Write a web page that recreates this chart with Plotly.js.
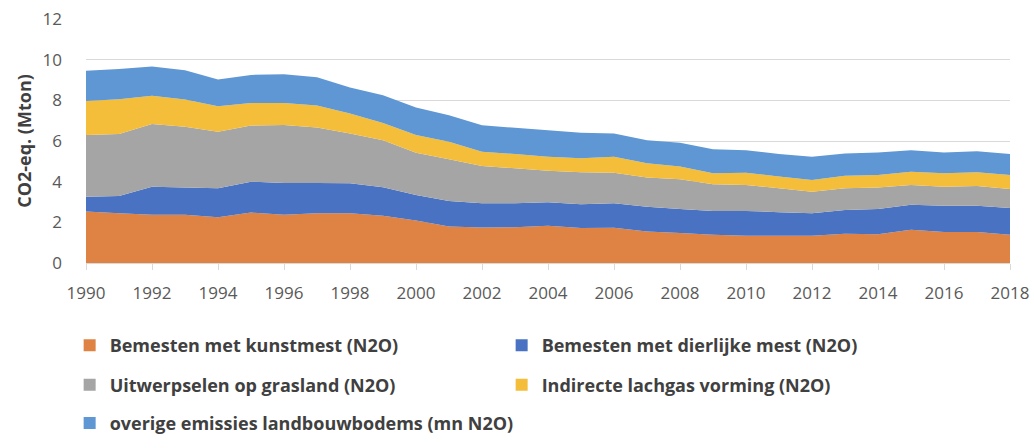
<!DOCTYPE html>
<html><head><meta charset="utf-8">
<script src="https://cdn.plot.ly/plotly-3.0.1.min.js"></script>
<style>html,body{margin:0;padding:0;background:#fff}</style>
</head><body><div id="chart" style="width:1034px;height:448px"></div>
<script>
const years = [1990,1991,1992,1993,1994,1995,1996,1997,1998,1999,2000,2001,2002,2003,2004,2005,2006,2007,2008,2009,2010,2011,2012,2013,2014,2015,2016,2017,2018];
const kunstmest = [2.53,2.45,2.37,2.37,2.25,2.48,2.37,2.45,2.45,2.32,2.09,1.79,1.75,1.76,1.83,1.72,1.73,1.55,1.47,1.39,1.34,1.34,1.34,1.44,1.42,1.63,1.52,1.52,1.39];
const dierlijkeMest = [0.73,0.85,1.38,1.34,1.43,1.52,1.57,1.49,1.47,1.41,1.26,1.26,1.19,1.18,1.16,1.17,1.21,1.22,1.18,1.17,1.22,1.16,1.11,1.17,1.23,1.23,1.29,1.30,1.31];
const uitwerpselen = [3.03,3.04,3.08,2.99,2.77,2.76,2.85,2.73,2.45,2.31,2.07,2.05,1.83,1.72,1.55,1.57,1.50,1.43,1.47,1.31,1.28,1.18,1.06,1.07,1.06,0.98,0.94,0.97,0.94];
const indirecte = [1.68,1.71,1.39,1.34,1.26,1.11,1.08,1.08,0.98,0.85,0.87,0.86,0.70,0.70,0.69,0.69,0.79,0.70,0.62,0.54,0.60,0.57,0.57,0.61,0.62,0.65,0.66,0.67,0.69];
const overige = [1.49,1.49,1.44,1.44,1.32,1.38,1.41,1.38,1.28,1.36,1.36,1.31,1.31,1.29,1.30,1.25,1.14,1.14,1.17,1.18,1.11,1.11,1.15,1.10,1.11,1.06,1.03,1.04,1.03];

const seriesNames = ['Bemesten met kunstmest (N2O)','Bemesten met dierlijke mest (N2O)','Uitwerpselen op grasland (N2O)','Indirecte lachgas vorming (N2O)','overige emissies landbouwbodems (mn N2O)'];
const seriesValues = [kunstmest, dierlijkeMest, uitwerpselen, indirecte, overige];
const colors = ['#DE8344','#4A72C2','#A5A5A5','#F4BE3A','#5E97D3'];
const legendIds = ['legend','legend','legend2','legend2','legend3'];

const font = 'Open Sans, sans-serif';
const traces = [];
seriesValues.forEach((vals, i) => {
  traces.push({
    type: 'scatter', x: years, y: vals, stackgroup: 'one', mode: 'none',
    fillcolor: colors[i], name: seriesNames[i], showlegend: false, hoverinfo: 'x+y+name'
  });
});
seriesValues.forEach((vals, i) => {
  traces.push({
    type: 'bar', x: [years[0]], y: [0], name: seriesNames[i], legend: legendIds[i],
    marker: {color: colors[i], line: {width: 0}}, showlegend: true, hoverinfo: 'skip'
  });
});

const legendBase = {
  orientation: 'h', xanchor: 'left', yanchor: 'middle', x: -0.0177, traceorder: 'normal',
  font: {family: font, size: 18, color: '#404040', weight: 'bold'},
  entrywidth: 387, entrywidthmode: 'pixels', bgcolor: 'rgba(0,0,0,0)'
};

const layout = {
  width: 1034, height: 448,
  margin: {l: 86, r: 24, t: 18.5, b: 184.7, autoexpand: false},
  paper_bgcolor: '#fff', plot_bgcolor: '#fff',
  font: {family: font, color: '#595959'},
  xaxis: {
    range: [1990, 2018], dtick: 2, tick0: 1990, showgrid: false, zeroline: false,
    showline: true, linecolor: '#d9d9d9', linewidth: 1, automargin: false,
    ticks: 'outside', ticklen: 6, tickcolor: '#d9d9d9',
    tickfont: {family: font, size: 17, color: '#595959'}, ticklabelstandoff: 9
  },
  yaxis: {
    range: [0, 12], dtick: 2, showgrid: true, gridcolor: '#d9d9d9', gridwidth: 1,
    zeroline: false, showline: false, ticks: '', automargin: false,
    tickfont: {family: font, size: 17, color: '#595959'}, ticklabelstandoff: 23,
    title: {text: 'CO2-eq. (Mton)', font: {family: font, size: 18, color: '#404040', weight: 'bold'}, standoff: 6}
  },
  legend: Object.assign({}, legendBase, {y: -0.338}),
  legend2: Object.assign({}, legendBase, {y: -0.500}),
  legend3: Object.assign({}, legendBase, {y: -0.657, entrywidth: 600}),
  showlegend: true
};

Plotly.newPlot('chart', traces, layout, {displayModeBar: false, staticPlot: true});
</script>
</body></html>
